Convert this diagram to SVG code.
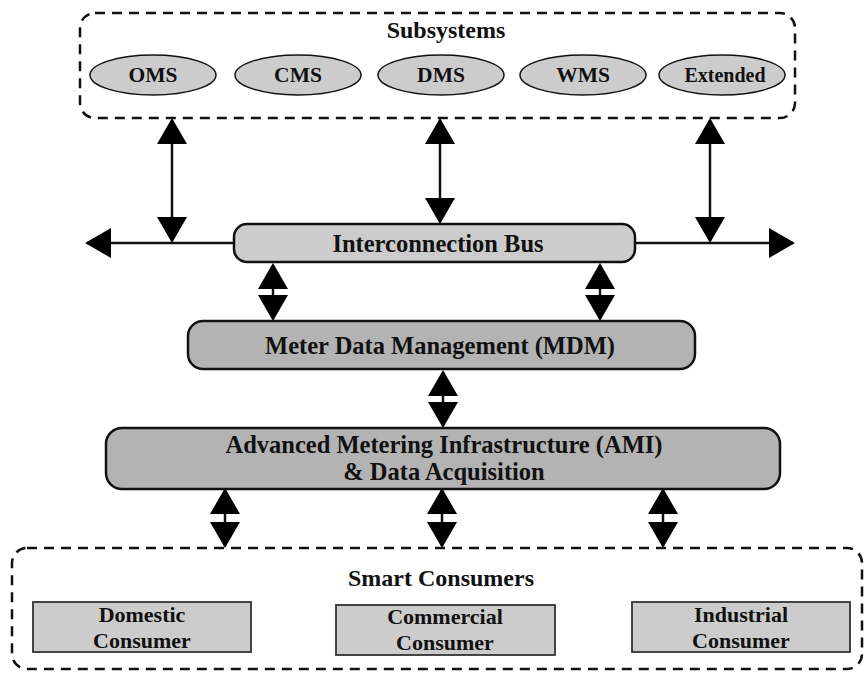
<svg xmlns="http://www.w3.org/2000/svg" width="865" height="673" viewBox="0 0 865 673">
  <style>
    text { font-family: "Liberation Serif", "Times New Roman", serif; font-weight: bold; fill: #111; text-anchor: middle; }
    .group-box { fill: none; stroke: #111; stroke-width: 2.5; stroke-dasharray: 10 7; }
    .sub { fill: #cccccc; stroke: #111; stroke-width: 1.5; }
    .bus { fill: #cccccc; stroke: #111; stroke-width: 2.5; }
    .layer { fill: #b3b3b3; stroke: #111; stroke-width: 2.5; }
    .consumer { fill: #cccccc; stroke: #333; stroke-width: 1.8; }
    .link { stroke: #111; stroke-width: 2.5; fill: none; marker-start: url(#head); marker-end: url(#head); }
    .bus-line { stroke: #111; stroke-width: 2.5; fill: none; }
  </style>
  <defs>
    <marker id="head" viewBox="0 0 26 30" refX="24" refY="15" markerWidth="26" markerHeight="30" markerUnits="userSpaceOnUse" orient="auto-start-reverse">
      <path d="M0,0 L26,15 L0,30 Z" fill="#000"/>
    </marker>
  </defs>

  <rect width="865" height="673" fill="#ffffff"/>

  <!-- connectors -->
  <g id="connectors">
    <!-- bus backbone with open ends -->
    <line class="bus-line" x1="87" y1="243" x2="793" y2="243" marker-start="url(#head)" marker-end="url(#head)"/>
    <!-- subsystems to bus -->
    <line class="link" x1="172" y1="120" x2="172" y2="241"/>
    <line class="link" x1="440" y1="120" x2="440" y2="222"/>
    <line class="link" x1="710" y1="120" x2="710" y2="241"/>
    <!-- bus to MDM -->
    <line class="link" x1="273" y1="265" x2="273" y2="319"/>
    <line class="link" x1="600" y1="265" x2="600" y2="319"/>
    <!-- MDM to AMI -->
    <line class="link" x1="443" y1="372" x2="443" y2="426"/>
    <!-- AMI to consumers -->
    <line class="link" x1="225" y1="490" x2="225" y2="546"/>
    <line class="link" x1="442" y1="490" x2="442" y2="546"/>
    <line class="link" x1="663" y1="490" x2="663" y2="546"/>
  </g>

  <!-- subsystems group -->
  <g id="subsystems">
    <rect class="group-box" x="80" y="13" width="715" height="105" rx="15"/>
    <text x="446" y="38" font-size="24">Subsystems</text>
  </g>
  <g id="oms">
    <ellipse class="sub" cx="153" cy="75" rx="63" ry="20"/>
    <text x="153" y="82" font-size="21.5">OMS</text>
  </g>
  <g id="cms">
    <ellipse class="sub" cx="298" cy="75" rx="63" ry="20"/>
    <text x="298" y="82" font-size="21.5">CMS</text>
  </g>
  <g id="dms">
    <ellipse class="sub" cx="441" cy="75" rx="63" ry="20"/>
    <text x="441" y="82" font-size="21.5">DMS</text>
  </g>
  <g id="wms">
    <ellipse class="sub" cx="583" cy="75" rx="63" ry="20"/>
    <text x="583" y="82" font-size="21.5">WMS</text>
  </g>
  <g id="extended">
    <ellipse class="sub" cx="722" cy="75" rx="63" ry="20"/>
    <text x="725" y="82" font-size="20">Extended</text>
  </g>

  <!-- interconnection bus -->
  <g id="bus">
    <rect class="bus" x="234" y="224" width="401" height="38" rx="13"/>
    <text x="438" y="252" font-size="24.5">Interconnection Bus</text>
  </g>

  <!-- meter data management -->
  <g id="mdm">
    <rect class="layer" x="188" y="321" width="507" height="48" rx="15"/>
    <text x="440" y="354" font-size="24.5">Meter Data Management (MDM)</text>
  </g>

  <!-- AMI and data acquisition -->
  <g id="ami">
    <rect class="layer" x="106" y="428" width="674" height="61" rx="16"/>
    <text x="444" y="453" font-size="24.5">Advanced Metering Infrastructure (AMI)</text>
    <text x="444" y="480" font-size="24.5">&amp; Data Acquisition</text>
  </g>

  <!-- smart consumers group -->
  <g id="smart-consumers">
    <rect class="group-box" x="12" y="548" width="850" height="121" rx="15"/>
    <text x="441" y="586" font-size="24">Smart Consumers</text>
  </g>
  <g id="domestic">
    <rect class="consumer" x="33" y="602" width="218" height="50"/>
    <text x="142" y="622" font-size="22">Domestic</text>
    <text x="142" y="648" font-size="22">Consumer</text>
  </g>
  <g id="commercial">
    <rect class="consumer" x="336" y="605" width="219" height="50"/>
    <text x="445" y="624" font-size="22">Commercial</text>
    <text x="445" y="650" font-size="22">Consumer</text>
  </g>
  <g id="industrial">
    <rect class="consumer" x="632" y="602" width="218" height="50"/>
    <text x="741" y="622" font-size="22">Industrial</text>
    <text x="741" y="648" font-size="22">Consumer</text>
  </g>
</svg>
